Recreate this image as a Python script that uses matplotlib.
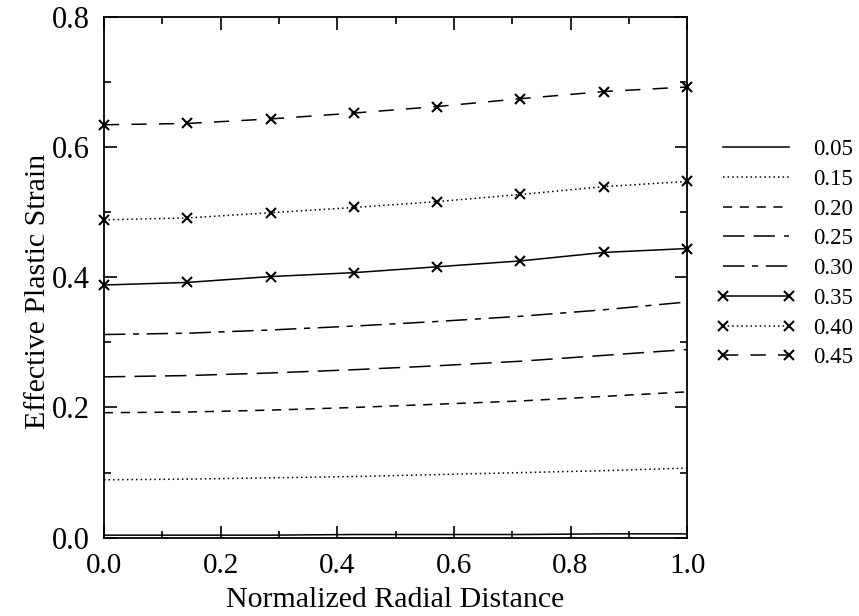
import matplotlib
matplotlib.use("Agg")
import matplotlib.pyplot as plt
from matplotlib.ticker import MultipleLocator, FormatStrFormatter

plt.rcParams['font.family'] = ['Liberation Serif', 'DejaVu Serif']

# radial positions of the computed points
radial = [0.0, 0.143, 0.286, 0.429, 0.571, 0.714, 0.857, 1.0]

labels = ['0.05', '0.15', '0.20', '0.25', '0.30', '0.35', '0.40', '0.45']

strain_005 = [0.004, 0.004, 0.004, 0.005, 0.005, 0.005, 0.006, 0.006]
strain_015 = [0.089, 0.090, 0.092, 0.094, 0.097, 0.100, 0.103, 0.107]
strain_020 = [0.192, 0.193, 0.196, 0.200, 0.205, 0.210, 0.217, 0.224]
strain_025 = [0.247, 0.249, 0.253, 0.258, 0.264, 0.271, 0.280, 0.289]
strain_030 = [0.312, 0.314, 0.319, 0.325, 0.332, 0.340, 0.350, 0.362]
strain_035 = [0.388, 0.392, 0.401, 0.407, 0.416, 0.425, 0.438, 0.444]
strain_040 = [0.488, 0.491, 0.499, 0.507, 0.516, 0.527, 0.539, 0.547]
strain_045 = [0.634, 0.636, 0.643, 0.652, 0.662, 0.674, 0.685, 0.692]

series = [strain_005, strain_015, strain_020, strain_025,
          strain_030, strain_035, strain_040, strain_045]

styles = [
    dict(linestyle='-'),
    dict(linestyle=(0, (1, 2))),
    dict(linestyle=(0, (6, 5))),
    dict(linestyle=(0, (14, 6))),
    dict(linestyle=(0, (14, 5, 4, 5))),
    dict(linestyle='-', marker='x'),
    dict(linestyle=(0, (1, 2)), marker='x'),
    dict(linestyle=(0, (10, 8)), marker='x'),
]

fig = plt.figure(figsize=(8.59, 6.16), dpi=100)
ax = fig.add_axes([0.121, 0.127, 0.679, 0.846])

for vals, lab, st in zip(series, labels, styles):
    ax.plot(radial, vals, color='black', lw=1.1, label=lab,
            markersize=6.5, markeredgewidth=1.5, clip_on=False, **st)

ax.set_xlim(0, 1.0)
ax.set_ylim(0, 0.8)
ax.xaxis.set_major_locator(MultipleLocator(0.2))
ax.xaxis.set_minor_locator(MultipleLocator(0.1))
ax.yaxis.set_major_locator(MultipleLocator(0.2))
ax.yaxis.set_minor_locator(MultipleLocator(0.1))
ax.xaxis.set_major_formatter(FormatStrFormatter('%.1f'))
ax.yaxis.set_major_formatter(FormatStrFormatter('%.1f'))
ax.tick_params(which='both', direction='in', top=True, right=True, width=1.2)
ax.tick_params(which='major', length=9)
ax.tick_params(which='minor', length=5)
ax.tick_params(axis='x', labelsize=21, pad=11)
ax.tick_params(axis='y', labelsize=22, pad=10)
for sp in ax.spines.values():
    sp.set_linewidth(1.3)

ax.set_xlabel('Normalized Radial Distance', fontsize=21.5, labelpad=6)
ax.set_ylabel('Effective Plastic Strain', fontsize=21.5, labelpad=1)
ax.yaxis.label.set_y(0.473)

fig.legend(loc='upper left', bbox_to_anchor=(0.823, 0.789), frameon=False,
           fontsize=16.5, handlelength=3.5, numpoints=2, labelspacing=0.38,
           handletextpad=0.75, borderaxespad=0)

fig.savefig('out.png', dpi=100)
